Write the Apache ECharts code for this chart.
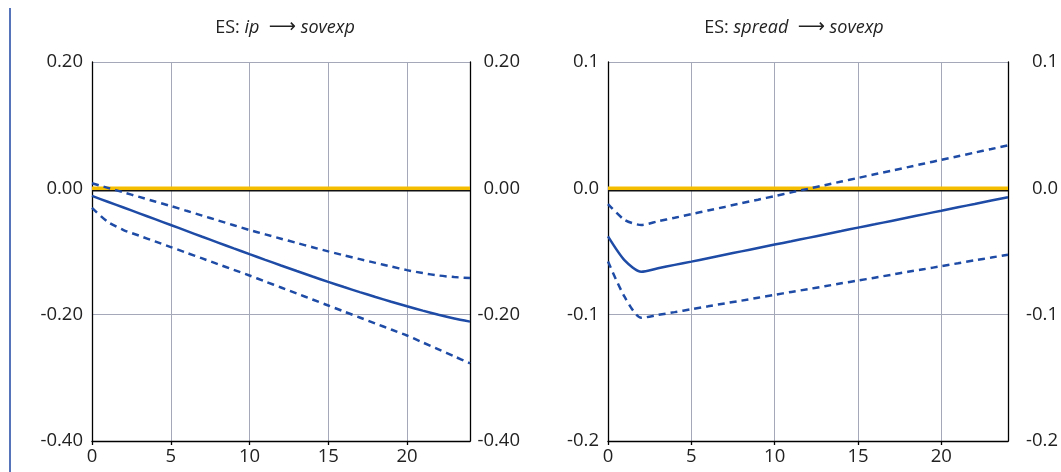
<!DOCTYPE html>
<html>
<head>
<meta charset="utf-8">
<script src="https://cdn.jsdelivr.net/npm/echarts@6/dist/echarts.min.js"></script>
<style>
html,body{margin:0;padding:0;background:#fff;}
#c{width:1061px;height:472px;}
</style>
</head>
<body>
<div id="c"></div>
<script>
// Horizons 0..24
const horizons = [0,1,2,3,4,5,6,7,8,9,10,11,12,13,14,15,16,17,18,19,20,21,22,23,24];

// Panel 1: ES: ip -> sovexp
const ipMedian = [-0.0120,-0.0212,-0.0304,-0.0396,-0.0488,-0.0580,-0.0674,-0.0767,-0.0859,-0.0951,-0.1042,-0.1132,-0.1221,-0.1309,-0.1396,-0.1481,-0.1563,-0.1643,-0.1720,-0.1795,-0.1867,-0.1936,-0.2001,-0.2060,-0.2110];
const ipUpper  = [0.0080,0.0008,-0.0064,-0.0136,-0.0208,-0.0280,-0.0356,-0.0432,-0.0508,-0.0584,-0.0660,-0.0729,-0.0797,-0.0865,-0.0932,-0.0998,-0.1061,-0.1121,-0.1180,-0.1238,-0.1295,-0.1342,-0.1380,-0.1405,-0.1420];
const ipLower  = [-0.031,-0.053,-0.066,-0.075,-0.084,-0.093,-0.102,-0.111,-0.120,-0.129,-0.138,-0.1475,-0.157,-0.1665,-0.176,-0.1855,-0.195,-0.2045,-0.214,-0.2235,-0.233,-0.2440,-0.2550,-0.2660,-0.2770];

// Panel 2: ES: spread -> sovexp
const spMedian = [-0.038,-0.057,-0.066,-0.0633,-0.0606,-0.0580,-0.0553,-0.0526,-0.0499,-0.0472,-0.0445,-0.0419,-0.0392,-0.0365,-0.0338,-0.0311,-0.0285,-0.0258,-0.0231,-0.0204,-0.0177,-0.0150,-0.0124,-0.0097,-0.0070];
const spUpper  = [-0.0125,-0.025,-0.029,-0.0261,-0.0233,-0.0204,-0.0175,-0.0147,-0.0118,-0.0090,-0.0061,-0.0032,-0.0004,0.0025,0.0054,0.0082,0.0111,0.0139,0.0168,0.0197,0.0225,0.0254,0.0283,0.0311,0.0340];
const spLower  = [-0.058,-0.086,-0.1025,-0.1002,-0.0980,-0.0957,-0.0934,-0.0911,-0.0889,-0.0866,-0.0843,-0.0820,-0.0798,-0.0775,-0.0752,-0.0730,-0.0707,-0.0684,-0.0661,-0.0639,-0.0616,-0.0593,-0.0570,-0.0548,-0.0525];

const zeroLine = [0,0,0,0,0,0,0,0,0,0,0,0,0,0,0,0,0,0,0,0,0,0,0,0,0];

// Axis settings
const yLeft = {min:-0.4, max:0.2, interval:0.2, dec:2};
const yRight = {min:-0.2, max:0.1, interval:0.1, dec:1};

const FONT = '"Open Sans","Noto Sans","DejaVu Sans",sans-serif';
const BLUE = '#1e4ba5';
const GOLD = '#f5bd00';
const GRID = '#a5a8b8';

function pairs(ys){ return horizons.map((h,i)=>[h, ys[i]]); }

const grids = [
  {left:92, right:591, top:62, bottom:31},
  {left:608, right:52, top:62, bottom:31}
];

function xAx(gi){
  return {
    type:'value', gridIndex:gi, min:0, max:24, interval:5,
    axisLine:{show:true, onZero:false, lineStyle:{color:'#000', width:1.3}},
    axisTick:{show:true, length:4, lineStyle:{color:'#000', width:1.3}},
    axisLabel:{color:'#222', fontSize:18.5, fontFamily:FONT, margin:6, showMaxLabel:false},
    splitLine:{show:true, lineStyle:{color:GRID, width:1}}
  };
}
function yAx(gi, cfg, pos){
  const left = pos === 'left';
  return {
    type:'value', gridIndex:gi, position:pos, min:cfg.min, max:cfg.max, interval:cfg.interval,
    axisLine:{show:true, onZero:false, lineStyle:{color:'#000', width:1.3}},
    axisTick:{show:false},
    axisLabel:{
      color:'#222', fontSize:18.5, fontFamily:FONT,
      margin: left ? 9 : 50, align:'right',
      formatter:(v)=>v.toFixed(cfg.dec)
    },
    splitLine:{show:left, lineStyle:{color:GRID, width:1}}
  };
}

function bandSeries(xi, yi, med, up, lo){
  return [
    {type:'line', xAxisIndex:xi, yAxisIndex:yi, data:pairs(zeroLine), symbol:'none', silent:true,
     lineStyle:{color:GOLD, width:3.5, shadowColor:'#111', shadowOffsetY:1.5, shadowBlur:0}, z:3},
    {type:'line', xAxisIndex:xi, yAxisIndex:yi, data:pairs(up), symbol:'none', smooth:0.25,
     lineStyle:{color:BLUE, width:2.5, type:[7,5]}, z:4},
    {type:'line', xAxisIndex:xi, yAxisIndex:yi, data:pairs(lo), symbol:'none', smooth:0.25,
     lineStyle:{color:BLUE, width:2.5, type:[7,5]}, z:4},
    {type:'line', xAxisIndex:xi, yAxisIndex:yi, data:pairs(med), symbol:'none', smooth:0.25,
     lineStyle:{color:BLUE, width:2.5}, z:5}
  ];
}

const titleRich = {
  n:{fontSize:18, fontFamily:FONT, fontWeight:'normal', color:'#222'},
  i:{fontSize:18, fontFamily:FONT, fontStyle:'italic', fontWeight:'normal', color:'#222'},
  a:{fontSize:19, fontFamily:'"DejaVu Sans",sans-serif', fontWeight:'normal', color:'#222'}
};

const chart = echarts.init(document.getElementById('c'), null, {renderer:'canvas'});
chart.setOption({
  animation:false,
  backgroundColor:'#fff',
  title:[
    {text:'{n|ES: }{i|ip}{n|  }{a|⟶}{n| }{i|sovexp}', left:280, top:13, textAlign:'center',
     textStyle:{fontWeight:'normal', rich:titleRich}},
    {text:'{n|ES: }{i|spread}{n|  }{a|⟶}{n| }{i|sovexp}', left:789, top:13, textAlign:'center',
     textStyle:{fontWeight:'normal', rich:titleRich}}
  ],
  grid:grids,
  xAxis:[xAx(0), xAx(1)],
  yAxis:[yAx(0,yLeft,'left'), yAx(0,yLeft,'right'), yAx(1,yRight,'left'), yAx(1,yRight,'right')],
  series:[].concat(
    bandSeries(0, 0, ipMedian, ipUpper, ipLower),
    bandSeries(1, 2, spMedian, spUpper, spLower)
  ),
  graphic:[
    {type:'rect', shape:{x:9, y:8, width:2, height:464}, style:{fill:'#5674b9'}, silent:true}
  ]
});
</script>
</body>
</html>
